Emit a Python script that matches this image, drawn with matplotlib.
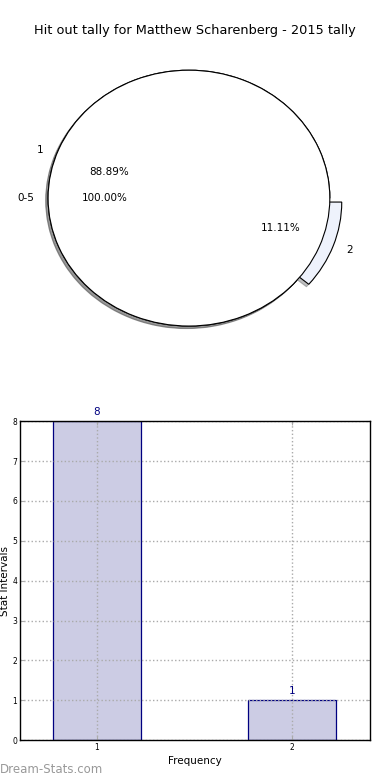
import matplotlib
matplotlib.use("Agg")
import matplotlib.pyplot as plt

# pie data
outer_labels = ["1", "2"]
outer_values = [8, 1]
inner_labels = ["0-5"]
inner_values = [1]

# bar data
bar_labels = ["1", "2"]
bar_values = [8, 1]

title = "Hit out tally for Matthew Scharenberg - 2015 tally"

fig = plt.figure(figsize=(3.9, 7.8), dpi=100)

# top: nested pie
shadow = {"ox": -0.012, "oy": -0.014, "alpha": 0.35}
ax1 = fig.add_axes([0.033, 0.541, 0.903, 0.410])
ax1.pie(
    outer_values,
    labels=outer_labels,
    explode=[0, 0.09],
    autopct="%.2f%%",
    shadow=shadow,
    colors=["#ffffff", "#eef2fc"],
    wedgeprops={"edgecolor": "black", "linewidth": 0.8},
    textprops={"fontsize": 7.5},
    startangle=0,
)
ax1.pie(
    inner_values,
    labels=inner_labels,
    autopct="%.2f%%",
    shadow=shadow,
    colors=["#ffffff"],
    wedgeprops={"edgecolor": "black", "linewidth": 0.8},
    textprops={"fontsize": 7.5},
    startangle=0,
)
ax1.set_aspect("auto")
ax1.set_xlim(-1.25, 1.25)
ax1.set_ylim(-1.25, 1.25)
fig.text(0.5, 0.961, title, ha="center", va="center", fontsize=9.3)

# bottom: bar chart
ax2 = fig.add_axes([0.051, 0.051, 0.897, 0.409])
x = list(range(len(bar_values)))
ax2.bar(x, bar_values, width=0.45, color="#cccce4", edgecolor="#000080",
        linewidth=0.9, zorder=1.5)
for xi, v in zip(x, bar_values):
    ax2.text(xi, v + 0.1, str(v), ha="center", va="bottom", color="#000080",
             fontsize=7.5)
ax2.set_xlim(-0.395, 1.4)
ax2.set_ylim(0, 8)
ax2.set_xticks(x)
ax2.set_xticklabels(bar_labels)
ax2.set_yticks(range(0, 9))
ax2.tick_params(labelsize=5.5, direction="in", color="#aaaaaa", length=3,
                right=True, top=True, pad=2)
ax2.set_axisbelow(False)
ax2.grid(True, linestyle=":", color="#aaaaaa", linewidth=1)
ax2.set_xlabel("Frequency", fontsize=7.5, labelpad=3)
ax2.set_ylabel("Stat Intervals", fontsize=7.5)
ax2.yaxis.set_label_coords(-0.028, 0.5)
for s in ax2.spines.values():
    s.set_linewidth(1)
    s.set_zorder(3)

fig.text(0.0, 0.013, "Dream-Stats.com", color="#999999", fontsize=8.5,
         ha="left", va="center")

fig.savefig("out.png", dpi=100)
